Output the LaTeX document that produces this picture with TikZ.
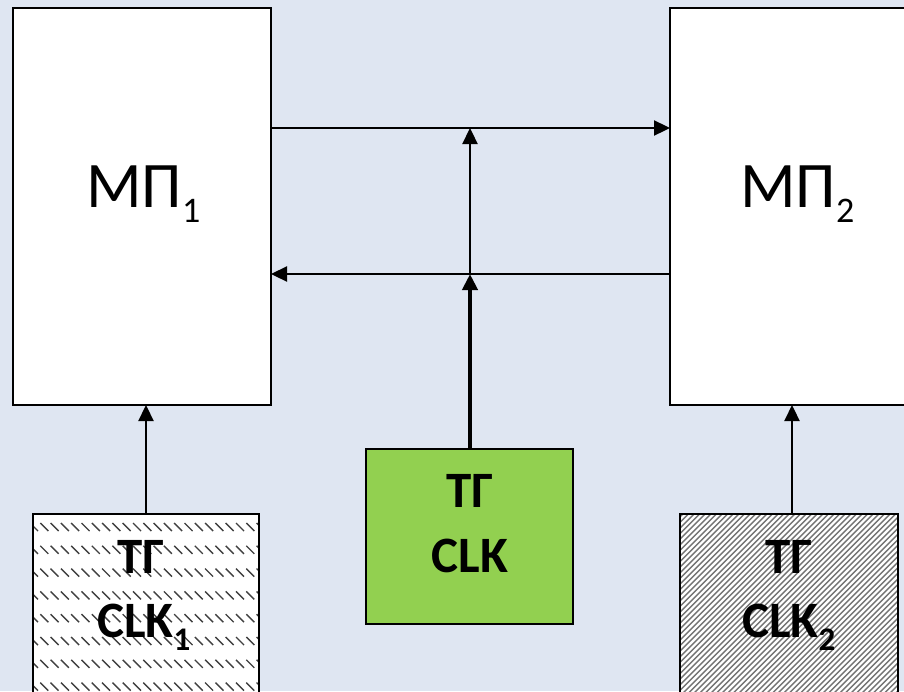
\documentclass[tikz,border=0pt]{standalone}
\usepackage{fontspec}
\setmainfont{Carlito}
\usetikzlibrary{arrows.meta}
\definecolor{bgc}{HTML}{DFE6F2}
\definecolor{clkgreen}{HTML}{92D050}
\begin{document}
\begin{tikzpicture}[x=1pt,y=-1pt,
  box/.style={draw=black,line width=2.2pt,inner sep=0pt,outer sep=0pt},
  arr/.style={line width=2.3pt,-{Triangle[length=16pt,width=15pt]}},
  big/.style={font=\fontsize{65}{65}\selectfont,inner sep=0pt,anchor=base west},
  gen/.style={font=\bfseries\fontsize{51}{51}\selectfont,inner sep=0pt,anchor=base},
  genw/.style={font=\bfseries\fontsize{51}{51}\selectfont,inner sep=0pt,anchor=base west}]
\clip (0,0) rectangle (904,691);
\fill[bgc] (0,0) rectangle (904,691);
% main processors
\node[box,fill=white,minimum width=258pt,minimum height=397pt] (m1) at (142,206.5) {};
\node[box,fill=white,minimum width=244pt,minimum height=397pt] (m2) at (792,206.5) {};
% clock generators
\node[box,fill=clkgreen,minimum width=207pt,minimum height=175pt] (clk) at (469.5,536.5) {};
\node[fill=white,inner sep=0pt,outer sep=0pt,minimum width=226pt,minimum height=186pt] (g1) at (146,607) {};
\node[fill=white,inner sep=0pt,outer sep=0pt,minimum width=218pt,minimum height=186pt] (g2) at (789,607) {};
% pattern of g1
\begin{scope}
  \clip (g1.north west) rectangle (g1.south east);
  \foreach \r in {0,...,8}{
    \foreach \c in {0,...,23}{
      \draw[black!75,line width=1.4pt] ({30+\c*10.3},{523+\r*22.8}) -- ++(8,8);
    }
  }
\end{scope}
\draw[line width=2.2pt] (g1.south west) -- (g1.north west) -- (g1.north east) -- (g1.south east);
% pattern of g2
\begin{scope}
  \clip (g2.north west) rectangle (g2.south east);
  \foreach \i in {0,...,80}{
    \draw[black!55,line width=1.4pt] ({480+\i*5.6},700) -- ++(200,-200);
  }
\end{scope}
\draw[line width=2.2pt] (g2.south west) -- (g2.north west) -- (g2.north east) -- (g2.south east);
% texts
\node[big] (t1) at (86,207) {МП\raisebox{-15pt}{\fontsize{36}{36}\selectfont 1}};
\node[big] (t2) at (740,207) {МП\raisebox{-15pt}{\fontsize{36}{36}\selectfont 2}};
\node[gen] (c0a) at (470,507) {ТГ};
\node[gen] (c0b) at (470,572) {CLK};
\node[gen] (c1a) at (141,573) {ТГ};
\node[genw] (c1b) at (97,637) {CLK\raisebox{-13pt}{\fontsize{33}{33}\selectfont 1}};
\node[gen] (c2a) at (789,573) {ТГ};
\node[genw] (c2b) at (742,637) {CLK\raisebox{-13pt}{\fontsize{33}{33}\selectfont 2}};
% connectors
\coordinate (j1) at (470,128);
\coordinate (j2) at (470,274);
\draw[arr] (m1.east |- j1) -- (m2.west |- j1);
\draw[arr] (m2.west |- j2) -- (m1.east |- j2);
\draw[arr] (j2) -- (j1);
\draw[arr,line width=4pt] (clk.north -| j2) -- (j2);
\draw[arr] (g1.north) -- (g1.north |- m1.south);
\coordinate (a2) at (792,514);
\draw[arr] (a2) -- (a2 |- m2.south);
\end{tikzpicture}
\end{document}
